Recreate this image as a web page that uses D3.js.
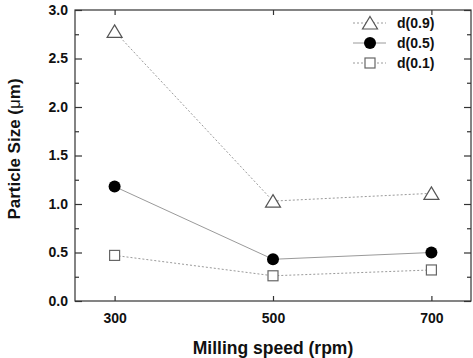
<!DOCTYPE html>
<html><head><meta charset="utf-8">
<script src="https://cdn.jsdelivr.net/npm/d3@7"></script>
<style>
body{margin:0;background:#fff;}
svg{display:block;}
text{font-family:"Liberation Sans",Arial,sans-serif;}
</style></head>
<body>
<svg id="chart" width="473" height="358"></svg>
<script>
const speeds = [300, 500, 700];
const d09 = [2.78, 1.03, 1.11];
const d05 = [1.18, 0.43, 0.50];
const d01 = [0.47, 0.26, 0.32];
const seriesNames = ["d(0.9)", "d(0.5)", "d(0.1)"];
const xTicks = [300, 500, 700];
const yMajorTicks = [0, 0.5, 1.0, 1.5, 2.0, 2.5, 3.0];
const yMinorTicks = [0.25, 0.75, 1.25, 1.75, 2.25, 2.75];

const svg = d3.select("#chart");
const L = 75, R = 471, T = 10, B = 301;
const x = d3.scaleLinear().domain([250, 750]).range([L, R]);
const y = d3.scaleLinear().domain([0, 3]).range([B, T]);
const axisColor = "#333";

// frame
svg.append("rect").attr("x", L).attr("y", T).attr("width", R - L).attr("height", B - T)
  .attr("fill", "none").attr("stroke", axisColor).attr("stroke-width", 1.2);

function styleAxis(g) {
  g.select(".domain").remove();
  g.selectAll(".tick line").attr("stroke", axisColor).attr("stroke-width", 1.2);
  g.selectAll("text").attr("fill", "#111").style("font-size", "14px").style("font-weight", "bold")
    .style("font-family", '"Liberation Sans", Arial, sans-serif');
}

// left axis major
svg.append("g").attr("transform", `translate(${L},0)`)
  .call(d3.axisLeft(y).tickValues(yMajorTicks).tickFormat(d3.format(".1f")).tickSize(-7).tickPadding(7))
  .call(styleAxis);
// left minor
svg.append("g").attr("transform", `translate(${L},0)`)
  .call(d3.axisLeft(y).tickValues(yMinorTicks).tickFormat("").tickSize(-4))
  .call(styleAxis);
// right axis
svg.append("g").attr("transform", `translate(${R},0)`)
  .call(d3.axisRight(y).tickValues(yMajorTicks).tickFormat("").tickSize(-7))
  .call(styleAxis);
svg.append("g").attr("transform", `translate(${R},0)`)
  .call(d3.axisRight(y).tickValues(yMinorTicks).tickFormat("").tickSize(-4))
  .call(styleAxis);
// bottom axis
svg.append("g").attr("transform", `translate(0,${B})`)
  .call(d3.axisBottom(x).tickValues(xTicks).tickFormat(d3.format("d")).tickSize(-5).tickPadding(12))
  .call(styleAxis);
// top axis
svg.append("g").attr("transform", `translate(0,${T})`)
  .call(d3.axisTop(x).tickValues(xTicks).tickFormat("").tickSize(-5))
  .call(styleAxis);

// titles
svg.append("text").attr("x", (L + R) / 2 + 0).attr("y", 354)
  .attr("text-anchor", "middle").style("font-size", "17.5px").style("font-weight", "bold")
  .attr("fill", "#111").text("Milling speed (rpm)");
const yt = svg.append("text").attr("transform", `translate(20,149) rotate(-90)`)
  .attr("text-anchor", "middle").style("font-size", "17px").style("font-weight", "bold").attr("fill", "#111");
yt.append("tspan").text("Particle Size (");
yt.append("tspan").style("font-weight", "normal").text("μ");
yt.append("tspan").text("m)");

const line = d3.line().x((d, i) => x(speeds[i])).y(d => y(d));
const lineColor = "#9a9a9a";

const series = [
  {name: seriesNames[0], vals: d09, dash: "2,2", marker: "tri"},
  {name: seriesNames[1], vals: d05, dash: null, marker: "circ"},
  {name: seriesNames[2], vals: d01, dash: "2,2", marker: "sq"}
];

function drawMarker(g, type, cx, cy) {
  if (type === "tri") {
    const w = 15, h = 12;
    g.append("path").attr("d", `M${cx},${cy - h / 2 - 0.5}L${cx + w / 2},${cy + h / 2}L${cx - w / 2},${cy + h / 2}Z`)
      .attr("fill", "#fff").attr("stroke", "#555").attr("stroke-width", 1.2);
  } else if (type === "circ") {
    g.append("circle").attr("cx", cx).attr("cy", cy).attr("r", 6).attr("fill", "#000");
  } else {
    const s = 10;
    g.append("rect").attr("x", cx - s / 2).attr("y", cy - s / 2).attr("width", s).attr("height", s)
      .attr("fill", "#fff").attr("stroke", "#666").attr("stroke-width", 1.2);
  }
}

series.forEach(s => {
  svg.append("path").datum(s.vals).attr("d", line).attr("fill", "none")
    .attr("stroke", lineColor).attr("stroke-width", 1).attr("stroke-dasharray", s.dash);
  const g = svg.append("g");
  s.vals.forEach((v, i) => drawMarker(g, s.marker, x(speeds[i]), y(v)));
});

// legend
const legY = [23, 43, 63];
series.forEach((s, i) => {
  const g = svg.append("g");
  g.append("line").attr("x1", 353).attr("x2", 386).attr("y1", legY[i]).attr("y2", legY[i])
    .attr("stroke", lineColor).attr("stroke-width", 1).attr("stroke-dasharray", s.dash);
  drawMarker(g, s.marker, 370, legY[i]);
  g.append("text").attr("x", 397).attr("y", legY[i] + 5).style("font-size", "14px")
    .style("font-weight", "bold").attr("fill", "#111").text(s.name);
});
</script>
</body></html>
